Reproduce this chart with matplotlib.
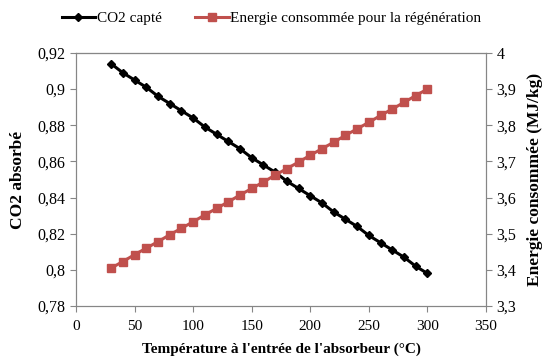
import matplotlib.pyplot as plt
from matplotlib.ticker import FuncFormatter, MultipleLocator

plt.rcParams['font.family'] = ['Liberation Serif', 'DejaVu Serif']

temp = [30, 40, 50, 60, 70, 80, 90, 100, 110, 120, 130, 140, 150, 160,
        170, 180, 190, 200, 210, 220, 230, 240, 250, 260, 270, 280, 290, 300]
co2 = [0.914, 0.909, 0.905, 0.901, 0.896, 0.892, 0.888, 0.884, 0.879, 0.875,
       0.871, 0.867, 0.862, 0.858, 0.854, 0.849, 0.845, 0.841, 0.837, 0.832,
       0.828, 0.824, 0.819, 0.815, 0.811, 0.807, 0.802, 0.798]
energie = [3.405, 3.423, 3.442, 3.460, 3.478, 3.497, 3.515, 3.533, 3.552, 3.570,
           3.588, 3.607, 3.625, 3.643, 3.662, 3.680, 3.698, 3.717, 3.735, 3.753,
           3.772, 3.790, 3.808, 3.827, 3.845, 3.863, 3.882, 3.900]

def virgule(v, pos):
    return '{:g}'.format(round(v, 3)).replace('.', ',')

fig = plt.figure(figsize=(5.43, 3.6), dpi=100)
ax = fig.add_axes([0.140, 0.150, 0.755, 0.703])
ax2 = ax.twinx()

l1, = ax.plot(temp, co2, color='black', lw=2.2, marker='D', ms=4, label='CO2 capté')
l2, = ax2.plot(temp, energie, color='#C0504D', lw=2.2, marker='s', ms=5.8, label='Energie consommée pour la régénération')

ax.set_xlim(0, 350)
ax.set_ylim(0.78, 0.92)
ax2.set_ylim(3.3, 4.0)
ax.xaxis.set_major_locator(MultipleLocator(50))
ax.yaxis.set_major_locator(MultipleLocator(0.02))
ax2.yaxis.set_major_locator(MultipleLocator(0.1))
ax.yaxis.set_major_formatter(FuncFormatter(virgule))
ax2.yaxis.set_major_formatter(FuncFormatter(virgule))

for a in (ax, ax2):
    for s in a.spines.values():
        s.set_color('#868686')
    a.tick_params(colors='#868686', labelcolor='black', labelsize=11.5, length=4)
ax.spines['top'].set_color('#404040')
ax.tick_params(axis='x', pad=6, labelsize=11)

ax.set_xlabel("Température à l'entrée de l'absorbeur (°C)", fontsize=11, fontweight='bold', labelpad=7)
ax.set_ylabel('CO2 absorbé', fontsize=12.5, fontweight='bold', labelpad=8)
ax2.set_ylabel('Energie consommée (MJ/kg)', fontsize=12.5, fontweight='bold', labelpad=8)

fig.legend(handles=[l1, l2], loc='center', bbox_to_anchor=(0.5, 0.95), ncol=2,
           frameon=False, fontsize=11, handlelength=2.2, handletextpad=0.1, columnspacing=2.2)

fig.savefig('out.png', dpi=100)
